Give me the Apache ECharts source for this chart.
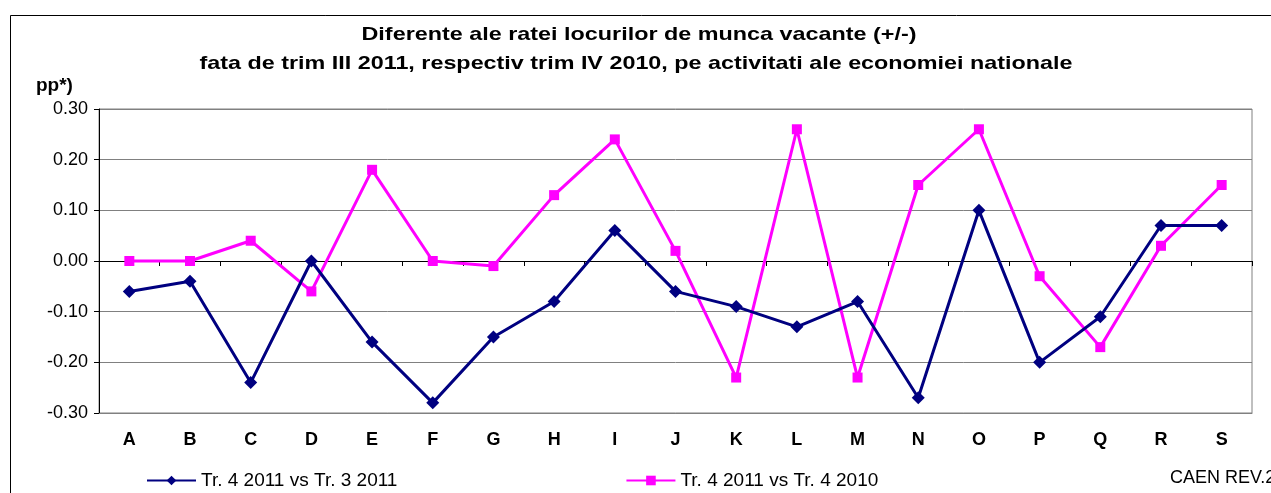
<!DOCTYPE html>
<html>
<head>
<meta charset="utf-8">
<script src="https://cdn.jsdelivr.net/npm/echarts@6/dist/echarts.min.js"></script>
<style>
  html, body { margin: 0; padding: 0; background: #fff; }
  #chart { width: 1271px; height: 493px; }
</style>
</head>
<body>
<div id="chart"></div>
<script>
  // categorii CAEN
  const categories = ['A', 'B', 'C', 'D', 'E', 'F', 'G', 'H', 'I', 'J', 'K', 'L', 'M', 'N', 'O', 'P', 'Q', 'R', 'S'];
  const seriesNames = ['Tr. 4 2011 vs Tr. 3 2011', 'Tr. 4 2011 vs Tr. 4 2010'];
  const vsTrim3 = [-0.06, -0.04, -0.24, 0.00, -0.16, -0.28, -0.15, -0.08, 0.06, -0.06, -0.09, -0.13, -0.08, -0.27, 0.10, -0.20, -0.11, 0.07, 0.07];
  const vsTrim4 = [0.00, 0.00, 0.04, -0.06, 0.18, 0.00, -0.01, 0.13, 0.24, 0.02, -0.23, 0.26, -0.23, 0.15, 0.26, -0.03, -0.17, 0.03, 0.15];
  const titleLines = [
    'Diferente ale ratei locurilor de munca vacante (+/-)',
    'fata de trim III 2011, respectiv trim IV 2010, pe activitati ale economiei nationale'
  ];

  const font = 'Liberation Sans, Arial, sans-serif';
  const titleFont = 'bold 19px ' + font;

  // titlul din Excel e mai lat (spatiere), il intindem pe orizontala
  function scaleFor(text, target) {
    let ctx = document.createElement('canvas').getContext('2d');
    ctx.font = titleFont;
    return target / ctx.measureText(text).width;
  }

  let chart = echarts.init(document.getElementById('chart'));
  let option = {
    backgroundColor: '#fff',
    textStyle: { fontFamily: font },
    animation: false,
    legend: {
      left: 141,
      top: 466,
      itemWidth: 49,
      itemHeight: 12,
      itemGap: 228,
      textStyle: { fontFamily: font, fontSize: 19, color: '#000' },
      data: seriesNames
    },
    grid: {
      left: 99,
      right: 19,
      top: 109,
      bottom: 80,
      show: true,
      borderColor: '#808080',
      borderWidth: 1
    },
    graphic: [
      {
        type: 'rect',
        shape: { x: 10.5, y: 15.5, width: 1400, height: 600 },
        style: { fill: null, stroke: '#000', lineWidth: 1 },
        z: -1
      },
      {
        type: 'text',
        x: 639, y: 35,
        scaleX: scaleFor(titleLines[0], 555),
        style: { text: titleLines[0], font: titleFont, fill: '#000', align: 'center', verticalAlign: 'middle' }
      },
      {
        type: 'text',
        x: 636, y: 64,
        scaleX: scaleFor(titleLines[1], 873),
        style: { text: titleLines[1], font: titleFont, fill: '#000', align: 'center', verticalAlign: 'middle' }
      },
      {
        type: 'text',
        x: 36, y: 86,
        style: { text: 'pp*)', font: 'bold 19px ' + font, fill: '#000', verticalAlign: 'middle' }
      },
      {
        type: 'text',
        x: 1170, y: 478,
        style: { text: 'CAEN REV.2', font: '18px ' + font, fill: '#000', verticalAlign: 'middle' }
      }
    ],
    xAxis: [
      {
        type: 'category',
        data: categories,
        position: 'bottom',
        axisLine: { onZero: true, lineStyle: { color: '#000', width: 1 } },
        axisTick: { show: true, length: 5, lineStyle: { color: '#000' } },
        axisLabel: { show: false },
        splitLine: { show: false }
      },
      {
        type: 'category',
        data: categories,
        position: 'bottom',
        axisLine: { onZero: false, lineStyle: { color: '#808080' } },
        axisTick: { show: false },
        axisLabel: { margin: 18, fontFamily: font, fontSize: 18, fontWeight: 'bold', color: '#000' },
        splitLine: { show: false }
      }
    ],
    yAxis: {
      type: 'value',
      min: -0.3,
      max: 0.3,
      interval: 0.1,
      axisLine: { show: true, lineStyle: { color: '#000' } },
      axisTick: { show: true, length: 5, lineStyle: { color: '#000' } },
      axisLabel: {
        margin: 11,
        fontFamily: font,
        fontSize: 18,
        color: '#000',
        formatter: v => v.toFixed(2)
      },
      splitLine: { lineStyle: { color: '#808080', width: 1 } }
    },
    series: [
      {
        name: seriesNames[0],
        type: 'line',
        xAxisIndex: 0,
        data: vsTrim3,
        symbol: 'diamond',
        symbolSize: 13,
        itemStyle: { color: '#000080' },
        lineStyle: { color: '#000080', width: 3 },
        z: 3
      },
      {
        name: seriesNames[1],
        type: 'line',
        xAxisIndex: 0,
        data: vsTrim4,
        symbol: 'rect',
        symbolSize: 10,
        itemStyle: { color: '#ff00ff' },
        lineStyle: { color: '#ff00ff', width: 3 },
        z: 2
      }
    ]
  };
  chart.setOption(option);
</script>
</body>
</html>
